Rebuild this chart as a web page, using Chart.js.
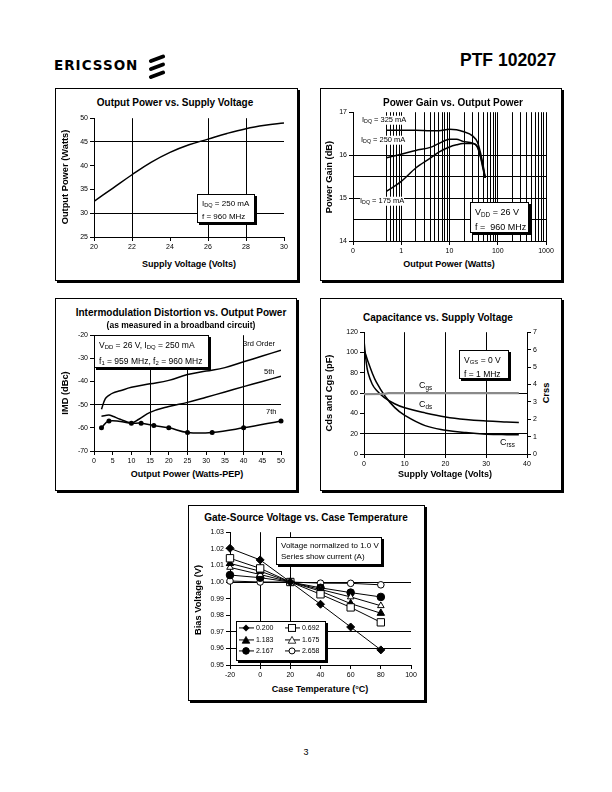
<!DOCTYPE html>
<html>
<head>
<meta charset="utf-8">
<title>PTF 102027</title>
<script src="https://cdn.jsdelivr.net/npm/chart.js@4.4.1/dist/chart.umd.min.js"></script>
<style>
body { margin: 0; background: #fff; }
#pagina { position: relative; width: 612px; height: 792px; background: #fff; overflow: hidden;
	font-family: "Liberation Sans", Arial, Helvetica, sans-serif; color: #000; }
.painel { position: absolute; box-sizing: border-box; border: 1px solid #000; box-shadow: 2px 2px 0 #000; background: #fff; }
.grafico { position: absolute; }
.t { position: absolute; white-space: nowrap; line-height: 1; }
.c { transform: translate(-50%, -50%); }
.l { transform: translateY(-50%); }
.titulo { font-weight: bold; font-size: 10px; }
.eixo { font-weight: bold; font-size: 9px; }
.vert { transform: translate(-50%, -50%) rotate(-90deg); font-size: 9.3px; }
.caixa { position: absolute; box-sizing: border-box; border: 1px solid #000; box-shadow: 2px 2px 0 #000;
	background: #fff; white-space: nowrap; padding: 3px 0 0 4px; }
.rotulo { background: #fff; font-size: 7.5px; }
.sb { font-size: 70%; vertical-align: -0.25em; }
.leg { position: absolute; font-size: 7px; line-height: 1; white-space: nowrap; transform: translateY(-50%); }
.leg svg { vertical-align: middle; }
</style>
</head>
<body>
<div id="pagina">

	<!-- cabeçalho -->
	<div class="t l" style="left:54px;top:65.5px;font-family:'DejaVu Sans',sans-serif;font-size:13.5px;font-weight:bold;letter-spacing:1px;">ERICSSON</div>
	<svg style="position:absolute;left:148px;top:54px;" width="18" height="25">
		<line x1="3" y1="7" x2="15" y2="2.5" stroke="#000" stroke-width="4" stroke-linecap="round"/>
		<line x1="3" y1="15" x2="15" y2="10.5" stroke="#000" stroke-width="4" stroke-linecap="round"/>
		<line x1="3" y1="23" x2="15" y2="18.5" stroke="#000" stroke-width="4" stroke-linecap="round"/>
	</svg>
	<div class="t l" style="left:460px;top:61px;font-size:17.5px;font-weight:bold;">PTF 102027</div>

	<!-- molduras -->
	<div class="painel" style="left:55px;top:88px;width:243px;height:193px;"></div>
	<div class="painel" style="left:320px;top:88px;width:242px;height:193px;"></div>
	<div class="painel" style="left:55px;top:298px;width:242px;height:193px;"></div>
	<div class="painel" style="left:320px;top:298px;width:242px;height:193px;"></div>
	<div class="painel" style="left:188px;top:505px;width:237px;height:196px;"></div>

	<canvas id="grafico_pout" class="grafico"></canvas>
	<canvas id="grafico_ganho" class="grafico"></canvas>
	<canvas id="grafico_imd" class="grafico"></canvas>
	<canvas id="grafico_cap" class="grafico"></canvas>
	<canvas id="grafico_bias" class="grafico"></canvas>

	<!-- 1: potência de saída -->
	<div class="t c titulo" style="left:175px;top:103px;">Output Power vs. Supply Voltage</div>
	<div class="t c eixo" style="left:189px;top:264px;">Supply Voltage (Volts)</div>
	<div class="t vert eixo" style="left:66px;top:177px;">Output Power (Watts)</div>
	<div class="caixa" style="left:197px;top:194px;width:58px;height:29px;font-size:8px;line-height:12px;">I<span class="sb">DQ</span> = 250 mA<br>f = 960 MHz</div>

	<!-- 2: ganho -->
	<div class="t c titulo" style="left:453px;top:103px;">Power Gain vs. Output Power</div>
	<div class="t c eixo" style="left:449px;top:264px;">Output Power (Watts)</div>
	<div class="t vert eixo" style="left:330px;top:177px;">Power Gain (dB)</div>
	<div class="t l rotulo" style="left:362px;top:120px;">I<span class="sb">DQ</span> = 325 mA</div>
	<div class="t l rotulo" style="left:361px;top:140px;">I<span class="sb">DQ</span> = 250 mA</div>
	<div class="t l rotulo" style="left:360px;top:201px;">I<span class="sb">DQ</span> = 175 mA</div>
	<div class="caixa" style="left:470px;top:202px;width:59px;height:31px;font-size:9px;line-height:13px;">V<span class="sb">DD</span> = 26 V<br>f =&nbsp; 960 MHz</div>

	<!-- 3: intermodulação -->
	<div class="t c titulo" style="left:181px;top:313px;">Intermodulation Distortion vs. Output Power</div>
	<div class="t c" style="left:181px;top:325px;font-size:8.5px;font-weight:bold;">(as measured in a broadband circuit)</div>
	<div class="t c eixo" style="left:187px;top:474px;">Output Power (Watts-PEP)</div>
	<div class="t vert eixo" style="left:66px;top:393px;">IMD (dBc)</div>
	<div class="caixa" style="left:94px;top:335px;width:115px;height:33px;font-size:8.5px;line-height:14px;padding-top:2px;">V<span class="sb">DD</span> = 26 V, I<span class="sb">DQ</span> = 250 mA<br>f<span class="sb">1</span> = 959 MHz, f<span class="sb">2</span> = 960 MHz</div>
	<div class="t l" style="left:243px;top:344px;font-size:7.5px;">3rd Order</div>
	<div class="t l" style="left:264px;top:372px;font-size:7.5px;">5th</div>
	<div class="t l" style="left:266px;top:412px;font-size:7.5px;">7th</div>

	<!-- 4: capacitância -->
	<div class="t c titulo" style="left:438px;top:318px;">Capacitance vs. Supply Voltage</div>
	<div class="t c eixo" style="left:445px;top:474px;">Supply Voltage (Volts)</div>
	<div class="t vert eixo" style="left:330px;top:393px;">Cds and Cgs (pF)</div>
	<div class="t vert eixo" style="left:547px;top:393px;">Crss</div>
	<div class="caixa" style="left:459px;top:350px;width:50px;height:29px;font-size:8.5px;line-height:12px;">V<span class="sb">GS</span> = 0 V<br>f = 1 MHz</div>
	<div class="t l" style="left:419px;top:386px;font-size:9px;">C<span class="sb">gs</span></div>
	<div class="t l" style="left:419px;top:405px;font-size:9px;">C<span class="sb">ds</span></div>
	<div class="t l" style="left:500px;top:443px;font-size:9px;">C<span class="sb">rss</span></div>

	<!-- 5: tensão de gate -->
	<div class="t c titulo" style="left:306px;top:518px;">Gate-Source Voltage vs. Case Temperature</div>
	<div class="t c eixo" style="left:320px;top:689px;">Case Temperature (°C)</div>
	<div class="t vert eixo" style="left:199px;top:600px;">Bias Voltage (V)</div>
	<div class="caixa" style="left:276px;top:537px;width:106px;height:28px;font-size:8px;line-height:11px;padding-top:2px;">Voltage normalized to 1.0 V<br>Series show current (A)</div>
	<div class="caixa" style="left:236px;top:621px;width:90px;height:40px;padding:0;"></div>
	<div id="legenda_bias"></div>

	<div class="t c" style="left:306px;top:752px;font-size:9px;">3</div>
</div>

<script>
// Output Power vs. Supply Voltage
var volts_pout = [20, 21, 22, 23, 24, 25, 26, 27, 28, 29, 30];
var watts_pout = [32.5, 35.3, 38.1, 40.7, 42.8, 44.4, 45.6, 46.8, 47.8, 48.5, 49.0];
var ticks_volts_pout = [20, 30, 2];
var ticks_watts_pout = [25, 50, 5];

// Power Gain vs. Output Power (escala log)
var pout_ganho = [0.5, 1, 2, 4, 6, 10, 14, 19, 30, 38, 44, 50, 55];
var ganho_325 = [16.58, 16.58, 16.58, 16.57, 16.57, 16.6, 16.59, 16.55, 16.45, 16.3, 16.05, 15.75, 15.47];
var ganho_250 = [15.94, 16.02, 16.11, 16.18, 16.27, 16.37, 16.37, 16.32, 16.28, 16.2, 15.98, 15.7, 15.47];
var ganho_175 = [15.16, 15.39, 15.7, 15.93, 16.07, 16.19, 16.24, 16.27, 16.27, 16.18, 15.95, 15.66, 15.47];
var marcas_log = [0.1, 0.5, 0.6, 0.7, 0.8, 0.9, 1, 2, 3, 4, 5, 6, 7, 8, 9, 10, 20, 30, 40, 50, 60, 70, 80, 90,
	100, 200, 300, 400, 500, 600, 700, 800, 900, 1000];
var decadas_log = [0.1, 1, 10, 100, 1000];
var rotulos_log = ["0", "1", "10", "100", "1000"];

// Intermodulation Distortion vs. Output Power
var pep_3a = [2, 3, 4, 5, 7, 10, 15, 20, 25, 30, 35, 40, 45, 50];
var imd_3a = [-52, -47.5, -46, -45, -44, -42.5, -41, -39.5, -37, -35.5, -34, -31.5, -29, -26.5];
var pep_5a = [2, 4, 5, 7, 10, 12, 15, 20, 25, 30, 35, 40, 45, 50];
var imd_5a = [-55, -54.5, -55, -56.3, -57.8, -56.3, -53.3, -50.8, -49, -46.8, -44.5, -42.2, -40, -37.7];
var pep_7a = [2, 4, 10, 12.6, 16, 20, 25, 31.6, 40, 50];
var imd_7a = [-60, -57, -58, -58, -59, -60, -62, -62, -60, -57];

// Capacitance vs. Supply Voltage
var vds_cap = [0, 0.5, 1, 2, 3, 5, 7.5, 10, 15, 20, 25, 30, 35, 38];
var cds_pf = [112, 92, 80, 69, 63, 55.5, 49.5, 45.5, 40.5, 36.5, 34, 32.5, 31.5, 31];
var crss_pf = [6.0, 5.66, 5.3, 4.67, 4.14, 3.38, 2.68, 2.22, 1.63, 1.37, 1.23, 1.14, 1.11, 1.11]; // eixo da direita
var vds_cgs = [0, 5, 6, 38];
var cgs_pf = [59, 59.3, 60, 60];

// Gate-Source Voltage vs. Case Temperature
var temp_caso = [-20, 0, 20, 40, 60, 80];
var bias_0200 = [1.0203, 1.0133, 1.0000, 0.9866, 0.9729, 0.9591];
var bias_0692 = [1.0143, 1.0082, 1.0000, 0.9926, 0.9847, 0.9757];
var bias_1183 = [1.0112, 1.0065, 1.0000, 0.9945, 0.9870, 0.9812];
var bias_1675 = [1.0088, 1.0045, 1.0000, 0.9955, 0.9910, 0.9857];
var bias_2167 = [1.0042, 1.0026, 1.0000, 0.9965, 0.9936, 0.9910];
var bias_2658 = [1.0006, 1.0000, 1.0000, 0.9993, 0.9992, 0.9983];
var series_bias = ["0.200", "0.692", "1.183", "1.675", "2.167", "2.658"];

Chart.defaults.font.family = '"Liberation Sans", Arial, Helvetica, sans-serif';
Chart.defaults.font.size = 7;
Chart.defaults.color = "#000";

var NADA = "rgba(0,0,0,0)";

function pontos(xs, ys) {
	return xs.map(function (x, i) {
		return { x: x, y: ys[i] };
	});
}

// só desenha linha de grade nos valores pedidos
function cor_grade(valores) {
	return function (ctx) {
		if (!ctx.tick) return NADA;
		for (var i = 0; i < valores.length; i++) {
			if (Math.abs(ctx.tick.value - valores[i]) < 1e-6) return "#000";
		}
		return NADA;
	};
}

function escala(tipo, pos, min, max, passo, grade, tamanho) {
	var e = {
		type: tipo,
		position: pos,
		min: min,
		max: max,
		afterFit: function (s) {
			if (pos == "bottom") s.height = tamanho;
			else s.width = tamanho;
		},
		border: { display: true, color: "#000", width: 1 },
		grid: { color: cor_grade(grade), tickColor: "#000", tickLength: 4, lineWidth: 1 },
		ticks: { color: "#000", font: { size: 7 }, padding: 2, autoSkip: false, maxRotation: 0, minRotation: 0 },
	};
	if (passo) e.ticks.stepSize = passo;
	return e;
}

// area = [esquerda, direita, topo, base] da área de plotagem na página
function montar(id, area, esq, dir, topo, baixo, config) {
	var canvas = document.getElementById(id);
	var w = esq + (area[1] - area[0]) + dir;
	var h = topo + (area[3] - area[2]) + baixo;
	canvas.width = w;
	canvas.height = h;
	canvas.style.left = area[0] - esq + "px";
	canvas.style.top = area[2] - topo + "px";
	canvas.style.width = w + "px";
	canvas.style.height = h + "px";
	config.options.responsive = false;
	config.options.animation = false;
	config.options.devicePixelRatio = 1;
	config.options.plugins = { legend: { display: false }, tooltip: { enabled: false } };
	if (!config.options.layout) config.options.layout = { padding: { left: 0, right: dir, top: topo, bottom: 0 } };
	return new Chart(canvas, config);
}

function linha(dados, extra) {
	var d = {
		data: dados,
		borderColor: "#000",
		borderWidth: 1.5,
		pointRadius: 0,
		tension: 0.4,
		fill: false,
	};
	for (var k in extra) d[k] = extra[k];
	return d;
}

// 1
montar("grafico_pout", [94, 284, 118, 237], 30, 12, 6, 16, {
	type: "line",
	data: { datasets: [linha(pontos(volts_pout, watts_pout), {})] },
	options: {
		scales: {
			x: escala("linear", "bottom", ticks_volts_pout[0], ticks_volts_pout[1], ticks_volts_pout[2], [22, 26, 28], 16),
			y: escala("linear", "left", ticks_watts_pout[0], ticks_watts_pout[1], ticks_watts_pout[2], [30, 45], 30),
		},
	},
});

// 2
var x_ganho = escala("logarithmic", "bottom", 0.1, 1000, null, marcas_log.slice(1), 16);
x_ganho.afterBuildTicks = function (s) {
	s.ticks = marcas_log.map(function (v) {
		return { value: v };
	});
};
x_ganho.ticks.callback = function (v) {
	var i = decadas_log.indexOf(v);
	return i >= 0 ? rotulos_log[i] : "";
};
x_ganho.grid.tickColor = cor_grade(decadas_log);
var y_ganho = escala("linear", "left", 14, 17, 0.5, [14.5, 15, 15.5, 16], 30);
y_ganho.ticks.callback = function (v) {
	return Number.isInteger(v) ? String(v) : "";
};
y_ganho.grid.tickColor = cor_grade([14, 15, 16, 17]);

montar("grafico_ganho", [353, 546, 112, 241], 30, 12, 6, 16, {
	type: "line",
	data: {
		datasets: [
			linha(pontos(pout_ganho, ganho_325), { cubicInterpolationMode: "monotone" }),
			linha(pontos(pout_ganho, ganho_250), { cubicInterpolationMode: "monotone" }),
			linha(pontos(pout_ganho, ganho_175), { cubicInterpolationMode: "monotone" }),
		],
	},
	options: { scales: { x: x_ganho, y: y_ganho } },
});

// 3
montar("grafico_imd", [94, 281, 335, 451], 30, 10, 6, 16, {
	type: "line",
	data: {
		datasets: [
			linha(pontos(pep_3a, imd_3a), {}),
			linha(pontos(pep_5a, imd_5a), {}),
			linha(pontos(pep_7a, imd_7a), { pointRadius: 2.5, pointBackgroundColor: "#000", pointBorderWidth: 0, clip: false }),
		],
	},
	options: {
		scales: {
			x: escala("linear", "bottom", 0, 50, 5, [15, 25, 40], 16),
			y: escala("linear", "left", -70, -20, 10, [-50], 30),
		},
	},
});

// 4
var y_crss = escala("linear", "right", 0, 7, 1, [], 14);
y_crss.grid.drawOnChartArea = false;
montar("grafico_cap", [364, 527, 332, 454], 30, 14, 6, 16, {
	type: "line",
	data: {
		datasets: [
			linha(pontos(vds_cgs, cgs_pf), { borderColor: "#8a8a8a", borderWidth: 2.2, tension: 0 }),
			linha(pontos(vds_cap, cds_pf), {}),
			linha(pontos(vds_cap, crss_pf), { yAxisID: "y2" }),
		],
	},
	options: {
		layout: { padding: { left: 0, right: 0, top: 6, bottom: 0 } },
		scales: {
			x: escala("linear", "bottom", 0, 40, 10, [10, 20, 30], 16),
			y: escala("linear", "left", 0, 120, 20, [20, 60], 30),
			y2: y_crss,
		},
	},
});

// 5
var estilos_bias = [
	{ estilo: "rectRot", raio: 4, cheio: true },
	{ estilo: "rect", raio: 5.2, cheio: false },
	{ estilo: "triangle", raio: 4.3, cheio: true },
	{ estilo: "triangle", raio: 3.8, cheio: false },
	{ estilo: "circle", raio: 3.8, cheio: true },
	{ estilo: "circle", raio: 3.3, cheio: false },
];
var valores_bias = [bias_0200, bias_0692, bias_1183, bias_1675, bias_2167, bias_2658];
var conjuntos_bias = valores_bias.map(function (vals, i) {
	var e = estilos_bias[i];
	return linha(pontos(temp_caso, vals), {
		label: series_bias[i],
		borderWidth: 1,
		tension: 0,
		pointStyle: e.estilo,
		pointRadius: e.raio,
		pointBackgroundColor: e.cheio ? "#000" : "#fff",
		pointBorderColor: "#000",
		pointBorderWidth: 1,
		clip: false,
	});
});
var y_bias = escala("linear", "left", 0.95, 1.03, 0.01, [1.0, 0.97, 0.96], 30);
y_bias.ticks.callback = function (v) {
	return v.toFixed(2);
};
montar("grafico_bias", [230, 411, 532, 665], 30, 10, 6, 16, {
	type: "line",
	data: { datasets: conjuntos_bias },
	options: {
		scales: {
			x: escala("linear", "bottom", -20, 100, 20, [0, 20], 16),
			y: y_bias,
		},
	},
});

// legenda do gráfico 5, duas colunas
function simbolo(i) {
	var e = estilos_bias[i];
	var fundo = e.cheio ? "#000" : "#fff";
	var m = "";
	if (e.estilo == "rectRot") m = '<polygon points="7,0.5 10.5,4 7,7.5 3.5,4" fill="#000"/>';
	else if (e.estilo == "rect") m = '<rect x="3.5" y="0.5" width="7" height="7" fill="#fff" stroke="#000"/>';
	else if (e.estilo == "triangle") m = '<polygon points="7,0.5 10.8,7.3 3.2,7.3" fill="' + fundo + '" stroke="#000" stroke-width="0.8"/>';
	else m = '<circle cx="7" cy="4" r="' + (e.cheio ? 3.3 : 3) + '" fill="' + fundo + '" stroke="#000"/>';
	return '<svg width="15" height="8"><line x1="0" y1="4" x2="15" y2="4" stroke="#000" stroke-width="1"/>' + m + "</svg>";
}
var legenda = document.getElementById("legenda_bias");
var html = "";
for (var i = 0; i < series_bias.length; i++) {
	var coluna = i % 2;
	var fila = Math.floor(i / 2);
	var x = coluna == 0 ? 239 : 285;
	var y = 628 + fila * 11.5;
	html += '<div class="leg" style="left:' + x + "px;top:" + y + 'px;">' + simbolo(i) + " " + series_bias[i] + "</div>";
}
legenda.innerHTML = html;
</script>
</body>
</html>
